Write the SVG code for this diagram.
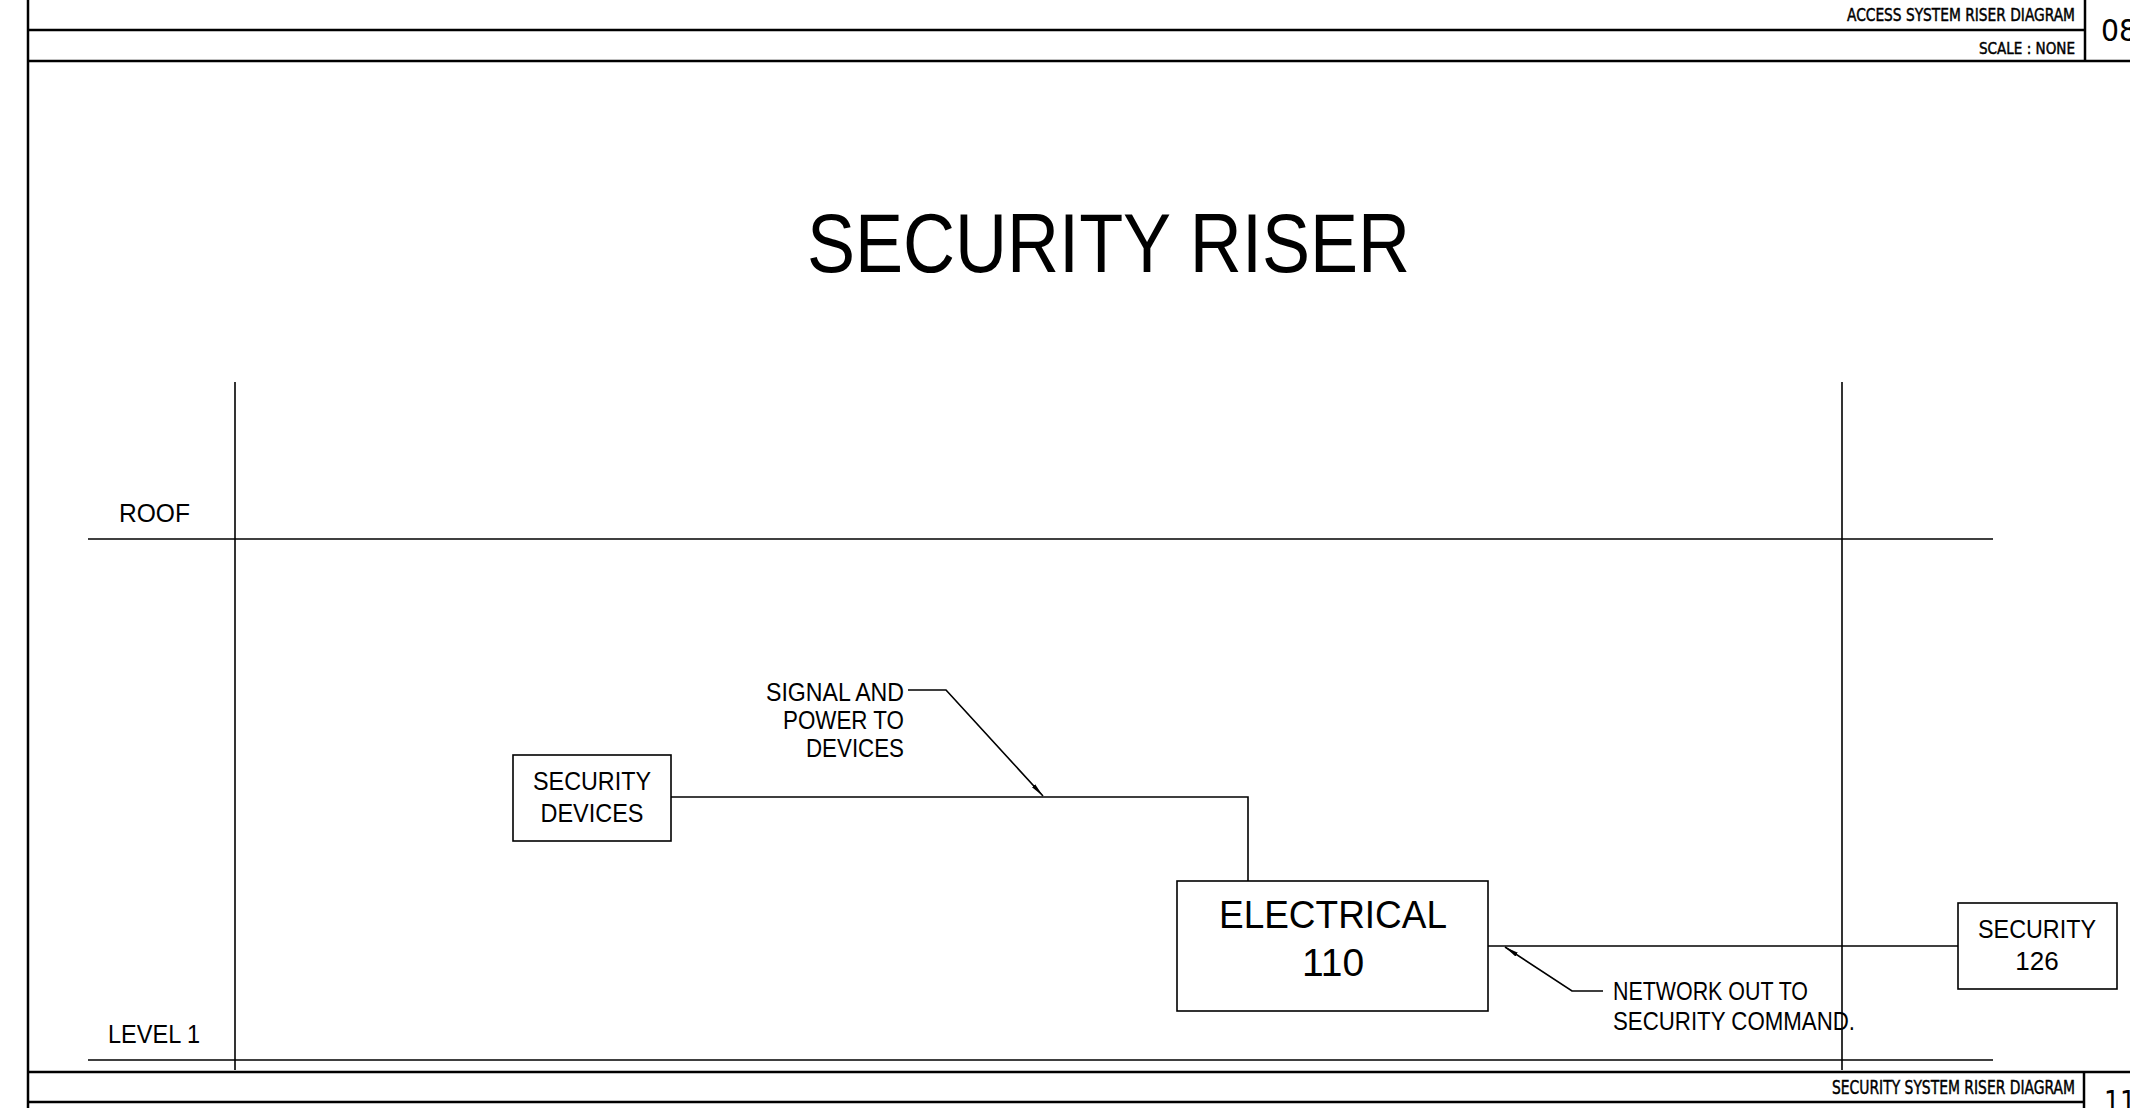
<svg xmlns="http://www.w3.org/2000/svg" width="2130" height="1108" viewBox="0 0 2130 1108">
<style>
.frame{stroke:#000;stroke-width:2.5;fill:none}
.ln{stroke:#000;stroke-width:1.6;fill:none}
.box{stroke:#000;stroke-width:1.6;fill:#fff}
.t{font-family:"Liberation Sans",Arial,sans-serif;fill:#000}
.tb{font-family:"DejaVu Sans Condensed","DejaVu Sans","Liberation Sans",sans-serif;fill:#000;stroke:#000;stroke-width:0.45}
.tn{font-family:"DejaVu Sans Condensed","DejaVu Sans","Liberation Sans",sans-serif;fill:#000}
</style>
<defs>
<marker id="arr" viewBox="0 0 14 6" refX="14" refY="3" markerWidth="14" markerHeight="6" markerUnits="userSpaceOnUse" orient="auto">
<path d="M0,0.8 L14,3 L0,5.2 Z" fill="#000"/>
</marker>
</defs>
<rect width="2130" height="1108" fill="#fff"/>
<g id="frame">
<line class="frame" x1="28" y1="0" x2="28" y2="1108"/>
<line class="frame" x1="28" y1="30" x2="2085" y2="30"/>
<line class="frame" x1="28" y1="61" x2="2130" y2="61"/>
<line class="frame" x1="2085" y1="0" x2="2085" y2="61"/>
<line class="frame" x1="28" y1="1072" x2="2130" y2="1072"/>
<line class="frame" x1="28" y1="1102" x2="2084" y2="1102"/>
<line class="frame" x1="2084" y1="1072" x2="2084" y2="1108"/>
<text class="tb" x="2075" y="21" font-size="17.5" text-anchor="end" textLength="228" lengthAdjust="spacingAndGlyphs">ACCESS SYSTEM RISER DIAGRAM</text>
<text class="tb" x="2075" y="54" font-size="16.5" text-anchor="end" textLength="96" lengthAdjust="spacingAndGlyphs">SCALE : NONE</text>
<text class="tn" x="2101" y="41" font-size="31" textLength="36" lengthAdjust="spacingAndGlyphs">08</text>
<text class="tb" x="2075" y="1094" font-size="19.5" text-anchor="end" textLength="243" lengthAdjust="spacingAndGlyphs">SECURITY SYSTEM RISER DIAGRAM</text>
<text class="tn" x="2104" y="1112" font-size="31" textLength="32" lengthAdjust="spacingAndGlyphs">11</text>
</g>
<text class="t" x="807" y="272" font-size="84" textLength="603" lengthAdjust="spacingAndGlyphs">SECURITY RISER</text>
<g id="levels">
<line class="ln" x1="235" y1="382" x2="235" y2="1070"/>
<line class="ln" x1="1842" y1="382" x2="1842" y2="1070"/>
<line class="ln" x1="88" y1="539" x2="1993" y2="539"/>
<line class="ln" x1="88" y1="1060" x2="1993" y2="1060"/>
<text class="t" x="119" y="522" font-size="26" textLength="71" lengthAdjust="spacingAndGlyphs">ROOF</text>
<text class="t" x="108" y="1043" font-size="26" textLength="92" lengthAdjust="spacingAndGlyphs">LEVEL 1</text>
</g>
<g id="connectors">
<path class="ln" d="M671,797 H1248 V881"/>
<path class="ln" d="M1488,946 H1958"/>
<path class="ln" d="M908,690 H946 L1043,796" marker-end="url(#arr)"/>
<path class="ln" d="M1603,991 H1572 L1505,947" marker-end="url(#arr)"/>
</g>
<g id="security-devices">
<rect class="box" x="513" y="755" width="158" height="86"/>
<text class="t" x="592" y="790" font-size="26" text-anchor="middle" textLength="118" lengthAdjust="spacingAndGlyphs">SECURITY</text>
<text class="t" x="592" y="822" font-size="26" text-anchor="middle" textLength="103" lengthAdjust="spacingAndGlyphs">DEVICES</text>
</g>
<g id="electrical-110">
<rect class="box" x="1177" y="881" width="311" height="130"/>
<text class="t" x="1333" y="928" font-size="39" text-anchor="middle" textLength="228" lengthAdjust="spacingAndGlyphs">ELECTRICAL</text>
<text class="t" x="1333" y="976" font-size="39" text-anchor="middle">110</text>
</g>
<g id="security-126">
<rect class="box" x="1958" y="903" width="159" height="86"/>
<text class="t" x="2037" y="938" font-size="26" text-anchor="middle" textLength="118" lengthAdjust="spacingAndGlyphs">SECURITY</text>
<text class="t" x="2037" y="970" font-size="26" text-anchor="middle">126</text>
</g>
<g id="label-signal">
<text class="t" x="904" y="701" font-size="25" text-anchor="end" textLength="138" lengthAdjust="spacingAndGlyphs">SIGNAL AND</text>
<text class="t" x="904" y="729" font-size="25" text-anchor="end" textLength="121" lengthAdjust="spacingAndGlyphs">POWER TO</text>
<text class="t" x="904" y="757" font-size="25" text-anchor="end" textLength="98" lengthAdjust="spacingAndGlyphs">DEVICES</text>
</g>
<g id="label-network">
<text class="t" x="1613" y="1000" font-size="25" textLength="195" lengthAdjust="spacingAndGlyphs">NETWORK OUT TO</text>
<text class="t" x="1613" y="1030" font-size="25" textLength="242" lengthAdjust="spacingAndGlyphs">SECURITY COMMAND.</text>
</g>
</svg>
